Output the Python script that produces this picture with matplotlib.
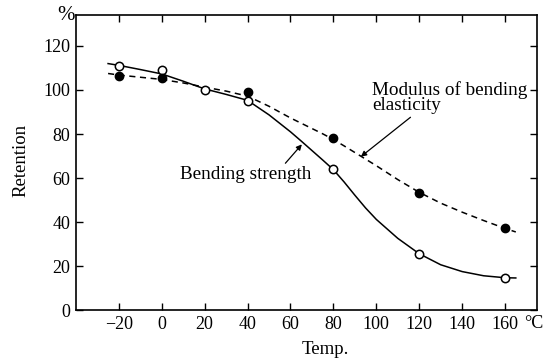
import matplotlib
matplotlib.use("Agg")
import matplotlib.pyplot as plt

plt.rcParams["font.family"] = ["Liberation Serif", "DejaVu Serif"]

# measured points
temps = [-20, 0, 20, 40, 80, 120, 160]
strength_pts = [111, 109, 100, 95, 64, 25.5, 14.7]
modulus_temps = [-20, 0, 40, 80, 120, 160]
modulus_pts = [106.3, 105.3, 99.3, 78, 53, 37.4]

# hand-drawn fit curves
curve_t = [-25, -20, -10, 0, 10, 20, 30, 40, 50, 60, 65, 70, 75, 80, 85, 90,
           95, 100, 110, 120, 130, 140, 150, 160, 165]
strength_curve = [112, 111.2, 109.3, 107.3, 104, 100.5, 98, 95.3, 88.7, 81,
                  76.8, 72.5, 68.2, 63.8, 58.2, 52.2, 46.4, 41.2, 32.6, 25.6,
                  20.6, 17.5, 15.6, 14.7, 14.6]
modulus_curve = [107.5, 106.8, 105.8, 104.8, 103.2, 101.3, 99.5, 97.2, 92.6,
                 87.3, 84.9, 82.5, 80.1, 77.5, 74.6, 71.6, 68.6, 65.6, 59.3,
                 53.5, 48.6, 44.5, 40.7, 37.1, 35.5]

xticks = [-20, 0, 20, 40, 60, 80, 100, 120, 140, 160]
yticks = [0, 20, 40, 60, 80, 100, 120]

fig = plt.figure(figsize=(5.46, 3.61), dpi=100, facecolor="white")
ax = fig.add_axes([0.139, 0.141, 0.845, 0.817])

ax.plot(curve_t, strength_curve, color="black", lw=1.1)
ax.plot(curve_t, modulus_curve, color="black", lw=1.1, ls=(0, (4, 3)))
ax.plot(temps, strength_pts, "o", ms=6, mfc="white", mec="black", mew=1.1)
ax.plot(modulus_temps, modulus_pts, "o", ms=6, mfc="black", mec="black")

ax.set_xlim(-40, 175)
ax.set_ylim(0, 134)
ax.set_xticks(xticks)
ax.set_yticks(yticks)
ax.tick_params(direction="in", top=True, right=True, labeltop=False,
               labelright=False, length=5, width=1, labelsize=13, pad=4)
for s in ax.spines.values():
    s.set_linewidth(1.2)

ax.annotate("Bending strength", xy=(65.3, 75.3), xytext=(8.4, 61.6),
            fontsize=13.8, ha="left", va="center",
            arrowprops=dict(arrowstyle="-|>", color="black", lw=0.9,
                            mutation_scale=8, shrinkA=0, shrinkB=0,
                            relpos=(0.78, 0.95)))
ax.annotate("Modulus of bending\nelasticity", xy=(92.8, 69.7), xytext=(98, 96.5),
            fontsize=13.8, ha="left", va="center", linespacing=0.9,
            arrowprops=dict(arrowstyle="-|>", color="black", lw=0.9,
                            mutation_scale=8, shrinkA=0, shrinkB=0,
                            relpos=(0.27, 0.0)))

fig.text(66 / 546, 1 - 15 / 361, "%", fontsize=15, ha="center", va="center")
fig.text(534 / 546, 1 - 324 / 361, "°C", fontsize=13, ha="center", va="center")
fig.text(325 / 546, 1 - 350 / 361, "Temp.", fontsize=13.5, ha="center", va="center")
fig.text(21 / 546, 1 - 160 / 361, "Retention", fontsize=13.5, ha="center",
         va="center", rotation=90)

fig.savefig("out.png", dpi=100, facecolor="white")
